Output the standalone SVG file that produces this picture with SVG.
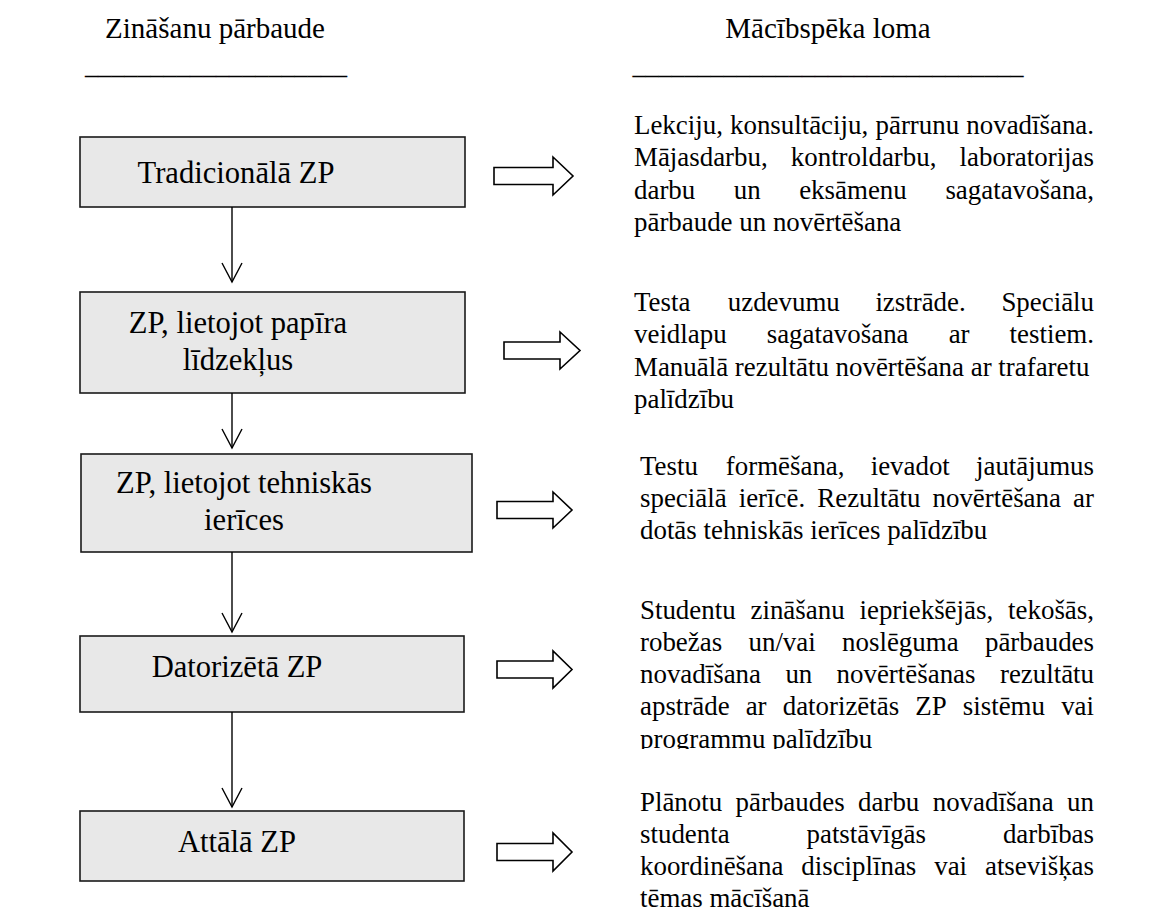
<svg xmlns="http://www.w3.org/2000/svg" width="1153" height="914" viewBox="0 0 1153 914">
<style>
.box{fill:#e8e8e8;stroke:#1a1a1a;stroke-width:1.6}
.hd{font-size:29px;fill:#000;text-anchor:middle}
.bt{font-size:30.6px;fill:#000;text-anchor:middle}
.tx{font-size:26.9px;fill:#000}
.r{text-anchor:end}
.ln{stroke:#000;stroke-width:1.4;fill:none}
.blk{fill:#fff;stroke:#000;stroke-width:1.6;stroke-linejoin:miter}
</style>
<defs>
<marker id="vhead" markerUnits="userSpaceOnUse" viewBox="-2 -2 24 24" markerWidth="24" markerHeight="24" refX="19" refY="10" orient="auto" overflow="visible">
<path d="M0,0 L19,10 L0,20" fill="none" stroke="#000" stroke-width="1.4"/>
</marker>
<clipPath id="clip4"><rect x="600" y="560" width="553" height="189"/></clipPath>
</defs>
<rect x="0" y="0" width="1153" height="914" fill="#fff"/>

<g font-family="'Liberation Serif', 'Times New Roman', serif">
<g id="headers">
<text class="hd" x="215" y="38">Zināšanu pārbaude</text>
<text class="hd" x="216" y="74" textLength="262" lengthAdjust="spacingAndGlyphs">____________________</text>
<text class="hd" x="828" y="38">Mācībspēka loma</text>
<text class="hd" x="828" y="74" textLength="391" lengthAdjust="spacingAndGlyphs">______________________________</text>
</g>

<g id="node1">
<rect class="box" x="80" y="137" width="385" height="70"/>
<text class="bt" x="236" y="183">Tradicionālā ZP</text>
</g>
<g id="node2">
<rect class="box" x="80" y="292" width="385" height="101"/>
<text class="bt" x="238" y="333">ZP, lietojot papīra</text>
<text class="bt" x="238" y="370">līdzekļus</text>
</g>
<g id="node3">
<rect class="box" x="81" y="454" width="391" height="98"/>
<text class="bt" x="244" y="493">ZP, lietojot tehniskās</text>
<text class="bt" x="244" y="530">ierīces</text>
</g>
<g id="node4">
<rect class="box" x="80" y="636" width="384" height="76"/>
<text class="bt" x="237" y="677">Datorizētā ZP</text>
</g>
<g id="node5">
<rect class="box" x="80" y="811" width="384" height="70"/>
<text class="bt" x="237" y="852">Attālā ZP</text>
</g>

<g id="connectors">
<line class="ln" x1="232" y1="207" x2="232" y2="282" marker-end="url(#vhead)"/>
<line class="ln" x1="232" y1="393" x2="232" y2="448" marker-end="url(#vhead)"/>
<line class="ln" x1="232" y1="552" x2="232" y2="632" marker-end="url(#vhead)"/>
<line class="ln" x1="232" y1="712" x2="232" y2="807" marker-end="url(#vhead)"/>
<path class="blk" d="M494,167.5 H553 V157 L573,176 L553,195 V184.5 H494 Z"/>
<path class="blk" d="M504,342 H560 V332 L580,350.5 L560,369 V359 H504 Z"/>
<path class="blk" d="M497,501.5 H553 V492 L572,510 L553,528 V518.5 H497 Z"/>
<path class="blk" d="M497,661 H553 V651 L572,669.5 L553,688 V678 H497 Z"/>
<path class="blk" d="M497,843.5 H553 V833 L572,852 L553,871 V860.5 H497 Z"/>
</g>

<g id="role1" class="tx">
<text y="134"><tspan x="634">Lekciju,</tspan><tspan x="730">konsultāciju,</tspan><tspan x="875.5">pārrunu</tspan><tspan x="1094" class="r">novadīšana.</tspan></text>
<text y="166"><tspan x="634">Mājasdarbu,</tspan><tspan x="790.8">kontroldarbu,</tspan><tspan x="1094" class="r">laboratorijas</tspan></text>
<text y="198.5"><tspan x="634">darbu</tspan><tspan x="733.8">un</tspan><tspan x="799.2">eksāmenu</tspan><tspan x="1094" class="r">sagatavošana,</tspan></text>
<text y="231" x="634">pārbaude un novērtēšana</text>
</g>
<g id="role2" class="tx">
<text y="311"><tspan x="634">Testa</tspan><tspan x="727.8">uzdevumu</tspan><tspan x="875.4">izstrāde.</tspan><tspan x="1094" class="r">Speciālu</tspan></text>
<text y="343"><tspan x="634">veidlapu</tspan><tspan x="766.7">sagatavošana</tspan><tspan x="948.7">ar</tspan><tspan x="1094" class="r">testiem.</tspan></text>
<text y="375.5" x="634">Manuālā rezultātu novērtēšana ar trafaretu</text>
<text y="408" x="634">palīdzību</text>
</g>
<g id="role3" class="tx">
<text y="475"><tspan x="640">Testu</tspan><tspan x="725.8">formēšana,</tspan><tspan x="870.7">ievadot</tspan><tspan x="1094" class="r">jautājumus</tspan></text>
<text y="507"><tspan x="640">speciālā</tspan><tspan x="738.7">ierīcē.</tspan><tspan x="817.3">Rezultātu</tspan><tspan x="932.5">novērtēšana</tspan><tspan x="1094" class="r">ar</tspan></text>
<text y="539" x="640">dotās tehniskās ierīces palīdzību</text>
</g>
<g id="role4" class="tx">
<text y="619"><tspan x="640">Studentu</tspan><tspan x="750.5">zināšanu</tspan><tspan x="859.5">iepriekšējās,</tspan><tspan x="1094" class="r">tekošās,</tspan></text>
<text y="651"><tspan x="640">robežas</tspan><tspan x="748.5">un/vai</tspan><tspan x="842.1">noslēguma</tspan><tspan x="1094" class="r">pārbaudes</tspan></text>
<text y="683"><tspan x="640">novadīšana</tspan><tspan x="785.4">un</tspan><tspan x="836.6">novērtēšanas</tspan><tspan x="1094" class="r">rezultātu</tspan></text>
<text y="715"><tspan x="640">apstrāde</tspan><tspan x="745.7">ar</tspan><tspan x="782.7">datorizētās</tspan><tspan x="915.3">ZP</tspan><tspan x="962.8">sistēmu</tspan><tspan x="1094" class="r">vai</tspan></text>
<text y="747.5" x="640" clip-path="url(#clip4)">programmu palīdzību</text>
</g>
<g id="role5" class="tx">
<text y="811"><tspan x="640">Plānotu</tspan><tspan x="735.6">pārbaudes</tspan><tspan x="858.1">darbu</tspan><tspan x="932.7">novadīšana</tspan><tspan x="1094" class="r">un</tspan></text>
<text y="843"><tspan x="640">studenta</tspan><tspan x="806.5">patstāvīgās</tspan><tspan x="1094" class="r">darbības</tspan></text>
<text y="875"><tspan x="640">koordinēšana</tspan><tspan x="801.3">disciplīnas</tspan><tspan x="934.2">vai</tspan><tspan x="1094" class="r">atsevišķas</tspan></text>
<text y="907" x="640">tēmas mācīšanā</text>
</g>
</g>
</svg>
